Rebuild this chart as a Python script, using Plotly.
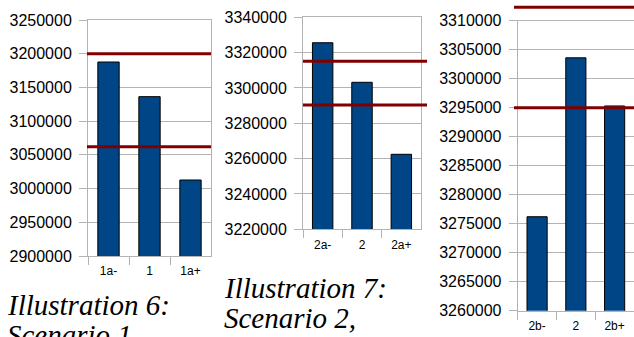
import plotly.graph_objects as go

# ---- data ----
cats1 = ["1a-", "1", "1a+"]
vals1 = [3187700, 3136300, 3012700]
limits1 = [3200000, 3062000]

cats2 = ["2a-", "2", "2a+"]
vals2 = [3325600, 3303200, 3262450]
limits2 = [3315100, 3290400]

cats3 = ["2b-", "2", "2b+"]
vals3 = [3276200, 3303600, 3295300]
limits3 = [3312300, 3295000]

yrange1 = [2900000, 3250000]
yrange2 = [3220000, 3340000]
yrange3 = [3260000, 3310000]
dticks = [50000, 20000, 5000]

captions = [
    ("Illustration 6:", "Scenario 1,"),
    ("Illustration 7:", "Scenario 2,"),
]

BAR = "#004586"
RED = "#800000"
GRID = "#b3b3b3"
W, H = 634, 337

fig = go.Figure()

# (cats, vals, limits, yrange, dtick, plot x px, plot y px, limit line x px)
panels = [
    (cats1, vals1, limits1, yrange1, dticks[0], (88, 211), (20, 256), (87, 211)),
    (cats2, vals2, limits2, yrange2, dticks[1], (303, 421), (17.3, 229.3), (303, 427)),
    (cats3, vals3, limits3, yrange3, dticks[2], (517.7, 634), (20.7, 310.7), (514, 634)),
]

layout = dict(
    width=W, height=H, margin=dict(l=0, r=0, t=0, b=0, autoexpand=False),
    paper_bgcolor="white", plot_bgcolor="rgba(0,0,0,0)",
    showlegend=False, bargap=0.48,
    font=dict(family="Liberation Sans, Arial, sans-serif", color="#000000"),
)

for i, (cats, vals, lims, yr, dt, xpx, ypx, lpx) in enumerate(panels, start=1):
    xa = "x" if i == 1 else f"x{i}"
    ya = "y" if i == 1 else f"y{i}"
    fig.add_trace(go.Bar(
        x=cats, y=vals, xaxis=xa, yaxis=ya,
        marker=dict(color=BAR, line=dict(color="#000000", width=1)),
        hoverinfo="skip",
    ))
    xkey = "xaxis" if i == 1 else f"xaxis{i}"
    ykey = "yaxis" if i == 1 else f"yaxis{i}"
    layout[xkey] = dict(
        domain=[xpx[0] / W, min(xpx[1] / W, 1.0)], anchor=ya,
        type="category", showgrid=False,
        showline=True, linecolor=GRID, linewidth=1, mirror=True,
        ticks="outside", tickson="boundaries", ticklen=8, tickcolor=GRID,
        ticklabelstandoff=4,
        tickfont=dict(size=12, color="#000000"),
    )
    layout[ykey] = dict(
        domain=[1 - ypx[1] / H, 1 - ypx[0] / H], anchor=xa,
        range=yr, dtick=dt, tick0=yr[0], tickformat="d",
        showgrid=True, gridcolor=GRID, gridwidth=1,
        showline=True, linecolor=GRID, linewidth=1, mirror=True,
        ticks="outside", ticklen=8, tickcolor=GRID,
        ticklabelstandoff=4,
        tickfont=dict(size=16, color="#000000"), zeroline=False,
    )

    # overlay subplot for the limit lines: same vertical scale as the panel,
    # but extended up to the top of the figure so lines above the plot show
    j = i + 3
    lx = f"x{j}"
    ly = f"y{j}"
    px_per_unit = (ypx[1] - ypx[0]) / (yr[1] - yr[0])
    ext_top = yr[0] + ypx[1] / px_per_unit
    layout[f"xaxis{j}"] = dict(
        domain=[lpx[0] / W, min(lpx[1] / W, 1.0)], anchor=ly,
        range=[0, 1], visible=False, fixedrange=True,
    )
    layout[f"yaxis{j}"] = dict(
        domain=[1 - ypx[1] / H, 1.0], anchor=lx,
        range=[yr[0], ext_top], visible=False, fixedrange=True,
    )
    for v in lims:
        fig.add_trace(go.Scatter(
            x=[0, 1], y=[v, v], xaxis=lx, yaxis=ly, mode="lines",
            line=dict(color=RED, width=3), hoverinfo="skip",
        ))

cap_font = dict(family="Liberation Serif, Times New Roman, serif", size=29, color="#000000")
annotations = []
cap_pos = [(5, 305, 335), (222, 288, 318)]
for (l1, l2), (x, y1, y2) in zip(captions, cap_pos):
    for txt, yy in ((l1, y1), (l2, y2)):
        annotations.append(dict(
            text=f"<i>{txt}</i>", xref="paper", yref="paper",
            x=x / W, y=1 - yy / H, xanchor="left", yanchor="middle",
            showarrow=False, font=cap_font,
        ))
layout["annotations"] = annotations

fig.update_layout(**layout)
fig.write_html(
    "out.html",
    config={"displayModeBar": False},
    post_script="document.body.style.margin='0px';document.body.style.overflow='hidden';",
)
